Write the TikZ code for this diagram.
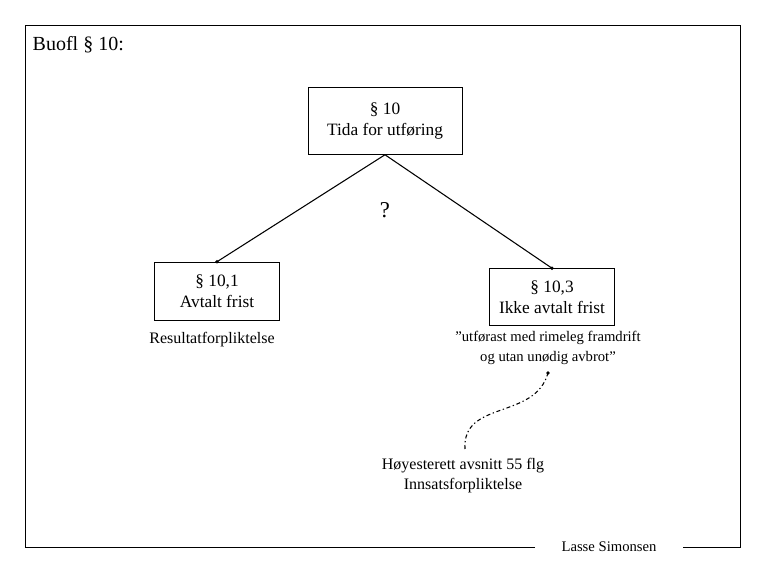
\documentclass[tikz,border=0pt]{standalone}
\usepackage{fontspec}
\setmainfont{Liberation Serif}
\usetikzlibrary{positioning}
\tikzset{box/.style={draw,align=center,inner sep=4pt,font=\fontsize{13}{16}\selectfont},
	txt/.style={align=center,font=\fontsize{12}{15}\selectfont},
	tip/.style={fill,circle,inner sep=1pt}}
\begin{document}
\begin{tikzpicture}[x=0.75pt,y=-0.75pt]
			\useasboundingbox (0,0) rectangle (765,570);
			\draw (535,547) -- (25,547) -- (25,25) -- (740,25) -- (740,547) -- (683,547);
			\node[anchor=north west,font=\fontsize{15}{18}\selectfont] (title) at (28,32) {Buofl § 10:};
			\node[font=\fontsize{11}{13}\selectfont] (author) at (609,547) {Lasse Simonsen};
			% boxes
			\node[box,minimum width=154*0.75pt,minimum height=67*0.75pt] (main) at (385,121) {§ 10\\Tida for utføring};
			\node[box,minimum width=125*0.75pt,minimum height=58*0.75pt] (agreed) at (217,291) {§ 10,1\\Avtalt frist};
			\node[box,minimum width=125*0.75pt,minimum height=57*0.75pt] (notagreed) at (552,297) {§ 10,3\\Ikke avtalt frist};
			\node[font=\fontsize{17}{20}\selectfont] (q) at (385,210) {?};
			% connectors
			\coordinate (a1) at (agreed.north);
			\coordinate (a2) at (notagreed.north);
			\draw[thick] (main.south) -- (a1) node[tip] {};
			\draw[thick] (main.south) -- (a2) node[tip] {};
			% notes
			\node[txt] (result) at (212,340) {Resultatforpliktelse};
			\node[txt,font=\fontsize{11}{15}\selectfont] (quote) at (548,348) {"utførast med rimeleg framdrift\\og utan unødig avbrot"};
			\node[txt] (hr) at (463,476) {Høyesterett avsnitt 55 flg\\Innsatsforpliktelse};
			\coordinate (c1) at (465,449);
			\coordinate (c2) at (548,373);
			\draw[thick,dash pattern=on 3pt off 2pt on 1pt off 2pt] (c1) .. controls (462,400) and (535,420) .. (c2) node[tip] {};
		\end{tikzpicture}
\end{document}
